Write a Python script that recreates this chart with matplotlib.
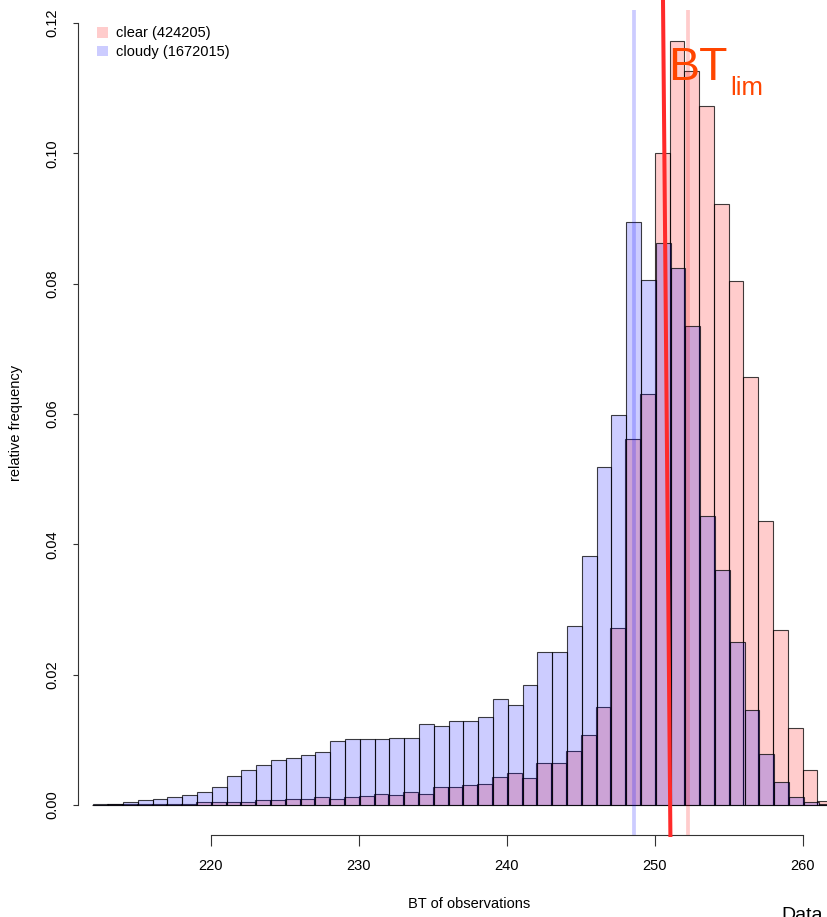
import numpy as np
import matplotlib.pyplot as plt
from matplotlib.patches import Patch

plt.rcParams['font.family'] = ['Liberation Sans', 'DejaVu Sans']

# histogram data: relative frequency per 1 K bin of BT
bin_start = 212
n_bins = 50
clear_freq = [0.00003, 0.0001, 0.0001, 0.0001, 0.0002, 0.0001, 0.0002, 0.0004, 0.0004, 0.0005,
              0.0005, 0.0008, 0.0008, 0.0010, 0.0010, 0.0013, 0.0009, 0.0012, 0.0014, 0.0017,
              0.0016, 0.0020, 0.0017, 0.0027, 0.0028, 0.0031, 0.0033, 0.0043, 0.0049, 0.0042,
              0.0065, 0.0065, 0.0083, 0.0107, 0.0151, 0.0271, 0.0562, 0.0631, 0.1001, 0.1172,
              0.1127, 0.1073, 0.0922, 0.0804, 0.0657, 0.0436, 0.0268, 0.0118, 0.0054, 0.0006]
cloudy_freq = [0.0001, 0.0002, 0.0004, 0.0007, 0.0009, 0.0012, 0.0015, 0.0020, 0.0028, 0.0045,
               0.0053, 0.0061, 0.0069, 0.0072, 0.0076, 0.0081, 0.0098, 0.0101, 0.0102, 0.0102,
               0.0103, 0.0103, 0.0125, 0.0121, 0.0129, 0.0129, 0.0135, 0.0163, 0.0154, 0.0184,
               0.0235, 0.0235, 0.0274, 0.0382, 0.0519, 0.0599, 0.0894, 0.0806, 0.0862, 0.0824,
               0.0735, 0.0444, 0.0361, 0.0250, 0.0146, 0.0079, 0.0035, 0.0013, 0.0005, 0.0001]
cloudy_shift = 0.07   # cloudy breaks sit slightly right of the clear ones
clear_label = "clear (424205)"
cloudy_label = "cloudy (1672015)"
clear_mark = 252.27
cloudy_mark = 248.6
bt_lim_x = [250.56, 251.06]     # the hand drawn, slightly tilted BT_lim line
bt_lim_y = [0.1236, -0.0046]
xticks = [220, 230, 240, 250, 260]
yticks = [0.00, 0.02, 0.04, 0.06, 0.08, 0.10, 0.12]

W, H = 828, 917
def fx(px):
    return px / W
def fy(py):
    return 1 - py / H

fig = plt.figure(figsize=(W / 100, H / 100), dpi=100)
ax = fig.add_axes([fx(78), fy(835), fx(828) - fx(78), fy(10) - fy(835)])

edges = np.arange(bin_start, bin_start + n_bins + 1, dtype=float)
ax.bar(edges[:-1], clear_freq, width=1.0, align='edge',
       facecolor=(1, 0, 0, 0.2), edgecolor=(0, 0, 0, 0.75), linewidth=0.8)
ax.bar(edges[:-1] + cloudy_shift, cloudy_freq, width=1.0, align='edge',
       facecolor=(0, 0, 1, 0.2), edgecolor=(0, 0, 0, 0.75), linewidth=0.8)

ax.axvline(cloudy_mark, color=(0, 0, 1, 0.2), lw=2.7)
ax.axvline(clear_mark, color=(1, 0, 0, 0.2), lw=2.7)
ax.plot(bt_lim_x, bt_lim_y, color='#ff2a2a', lw=2.9, clip_on=False, zorder=5)

ax.text(fx(668), fy(80), "BT", transform=fig.transFigure, fontsize=33.5,
        color='#ff4500', va='baseline', ha='left')
ax.text(fx(730), fy(95), "lim", transform=fig.transFigure, fontsize=18.5,
        color='#ff4500', va='baseline', ha='left')

ax.set_xlim(211.03, 261.71)
ax.set_ylim(-0.0046, 0.1220)

for s in ['top', 'right']:
    ax.spines[s].set_visible(False)
ax.spines['left'].set_bounds(0, 0.12)
ax.spines['bottom'].set_bounds(220, 260)
for s in ['left', 'bottom']:
    ax.spines[s].set_linewidth(0.8)
    ax.spines[s].set_color('#333333')

ax.set_xticks(xticks)
ax.set_xticklabels([str(t) for t in xticks])
ax.set_yticks(yticks)
ax.set_yticklabels(["%.2f" % t for t in yticks], rotation=90, va='center')
ax.tick_params(axis='x', length=8, width=0.8, pad=9, labelsize=10.5, color='#333333')
ax.tick_params(axis='y', length=3.6, width=0.8, pad=9.5, labelsize=10.5, color='#333333')

ax.set_xlabel("BT of observations", fontsize=10.5)
ax.xaxis.set_label_coords((469 - 78) / 750, -(897 - 835) / 825)
ax.set_ylabel("relative frequency", fontsize=10.5)
ax.yaxis.set_label_coords(-(78 - 23) / 750, 0.5)

handles = [Patch(facecolor=(1, 0, 0, 0.2), edgecolor='none', label=clear_label),
           Patch(facecolor=(0, 0, 1, 0.2), edgecolor='none', label=cloudy_label)]
ax.legend(handles=handles, loc='upper left', bbox_to_anchor=(fx(90), fy(19)),
          bbox_transform=fig.transFigure, frameon=False, fontsize=10.5, borderpad=0,
          handlelength=0.75, handleheight=0.75, handletextpad=0.55, labelspacing=0.32)

fig.text(fx(781), fy(907), "Data", fontsize=14, va='top', ha='left')

plt.savefig("out.png", dpi=100)
